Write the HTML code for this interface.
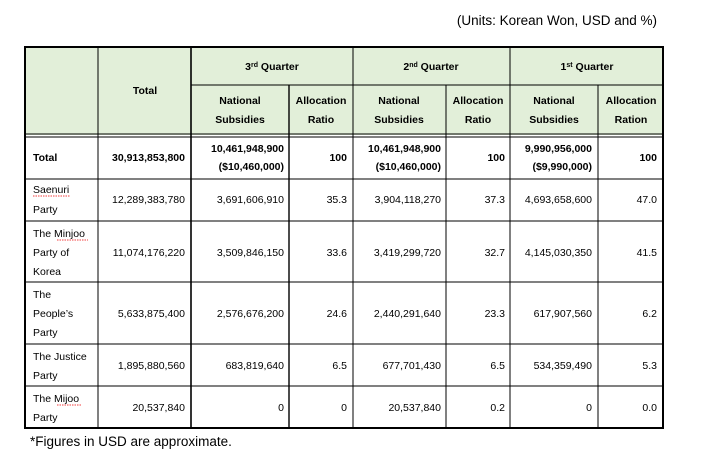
<!DOCTYPE html>
<html><head><meta charset="utf-8"><style>
html,body{margin:0;padding:0;background:#fff;width:701px;height:458px;overflow:hidden}
svg text{font-family:"Liberation Sans",sans-serif;font-size:10.5px;fill:#000}
.b{font-weight:bold}
</style></head><body>
<svg width="701" height="458" viewBox="0 0 701 458" xmlns="http://www.w3.org/2000/svg">
<text x="657" y="25" text-anchor="end" style="font-size:13.5px">(Units: Korean Won, USD and %)</text>
<rect x="25" y="47" width="638" height="88" fill="#e2efd9"/>
<g stroke="#000" fill="none">
<rect x="25" y="47" width="638" height="381" stroke-width="2"/>
<line x1="191" y1="85" x2="663" y2="85" stroke-width="1"/>
<line x1="25" y1="134" x2="663" y2="134" stroke-width="1"/>
<line x1="25" y1="137" x2="663" y2="137" stroke-width="1"/>
<line x1="25" y1="179" x2="663" y2="179" stroke-width="1"/>
<line x1="25" y1="221" x2="663" y2="221" stroke-width="1"/>
<line x1="25" y1="282" x2="663" y2="282" stroke-width="1"/>
<line x1="25" y1="344" x2="663" y2="344" stroke-width="1"/>
<line x1="25" y1="386" x2="663" y2="386" stroke-width="1"/>
<line x1="98" y1="47" x2="98" y2="428" stroke-width="1"/>
<line x1="191" y1="47" x2="191" y2="428" stroke-width="1.6"/>
<line x1="289" y1="85" x2="289" y2="428" stroke-width="1.4"/>
<line x1="353" y1="47" x2="353" y2="428" stroke-width="1"/>
<line x1="446" y1="85" x2="446" y2="428" stroke-width="1"/>
<line x1="510" y1="47" x2="510" y2="428" stroke-width="1"/>
<line x1="598" y1="85" x2="598" y2="428" stroke-width="1"/>
</g>
<g class="b" text-anchor="middle">
<text class="b" x="145" y="94">Total</text>
<text class="b" x="272" y="70">3<tspan font-size="7" dy="-3">rd</tspan><tspan dy="3"> Quarter</tspan></text>
<text class="b" x="431" y="70">2<tspan font-size="7" dy="-3">nd</tspan><tspan dy="3"> Quarter</tspan></text>
<text class="b" x="587" y="70">1<tspan font-size="7" dy="-3">st</tspan><tspan dy="3"> Quarter</tspan></text>
<text class="b" x="240" y="104">National</text><text class="b" x="240" y="123">Subsidies</text>
<text class="b" x="321" y="104">Allocation</text><text class="b" x="321" y="123">Ratio</text>
<text class="b" x="399" y="104">National</text><text class="b" x="399" y="123">Subsidies</text>
<text class="b" x="478" y="104">Allocation</text><text class="b" x="478" y="123">Ratio</text>
<text class="b" x="554" y="104">National</text><text class="b" x="554" y="123">Subsidies</text>
<text class="b" x="631" y="104">Allocation</text><text class="b" x="631" y="123">Ration</text>
</g>
<text class="b" x="33" y="161">Total</text>
<g text-anchor="end">
<text class="b" x="185" y="161">30,913,853,800</text>
<text class="b" x="284" y="152">10,461,948,900</text><text class="b" x="284" y="170">($10,460,000)</text>
<text class="b" x="347" y="161">100</text>
<text class="b" x="441" y="152">10,461,948,900</text><text class="b" x="441" y="170">($10,460,000)</text>
<text class="b" x="505" y="161">100</text>
<text class="b" x="592" y="152">9,990,956,000</text><text class="b" x="592" y="170">($9,990,000)</text>
<text class="b" x="657" y="161">100</text>
</g>
<g>
<text x="33" y="193">Saenuri</text><text x="33" y="213">Party</text>
<text x="33" y="237">The Minjoo</text><text x="33" y="256">Party of</text><text x="33" y="275">Korea</text>
<text x="33" y="298">The</text><text x="33" y="317">People’s</text><text x="33" y="336">Party</text>
<text x="33" y="360">The Justice</text><text x="33" y="379">Party</text>
<text x="33" y="402">The Mijoo</text><text x="33" y="421">Party</text>
</g>
<g text-anchor="end">
<text x="185" y="203">12,289,383,780</text><text x="284" y="203">3,691,606,910</text><text x="347" y="203">35.3</text><text x="441" y="203">3,904,118,270</text><text x="505" y="203">37.3</text><text x="592" y="203">4,693,658,600</text><text x="657" y="203">47.0</text>
<text x="185" y="256">11,074,176,220</text><text x="284" y="256">3,509,846,150</text><text x="347" y="256">33.6</text><text x="441" y="256">3,419,299,720</text><text x="505" y="256">32.7</text><text x="592" y="256">4,145,030,350</text><text x="657" y="256">41.5</text>
<text x="185" y="317">5,633,875,400</text><text x="284" y="317">2,576,676,200</text><text x="347" y="317">24.6</text><text x="441" y="317">2,440,291,640</text><text x="505" y="317">23.3</text><text x="592" y="317">617,907,560</text><text x="657" y="317">6.2</text>
<text x="185" y="369">1,895,880,560</text><text x="284" y="369">683,819,640</text><text x="347" y="369">6.5</text><text x="441" y="369">677,701,430</text><text x="505" y="369">6.5</text><text x="592" y="369">534,359,490</text><text x="657" y="369">5.3</text>
<text x="185" y="411">20,537,840</text><text x="284" y="411">0</text><text x="347" y="411">0</text><text x="441" y="411">20,537,840</text><text x="505" y="411">0.2</text><text x="592" y="411">0</text><text x="657" y="411">0.0</text>
</g>
<g stroke="#e00" stroke-width="0.8" fill="none" stroke-dasharray="1.5,1">
<line x1="33" y1="196" x2="70" y2="196"/><line x1="57" y1="240" x2="88" y2="240"/><line x1="57" y1="405" x2="82" y2="405"/>
</g>
<text x="30" y="446" style="font-size:13.5px">*Figures in USD are approximate.</text>
</svg>
</body></html>
